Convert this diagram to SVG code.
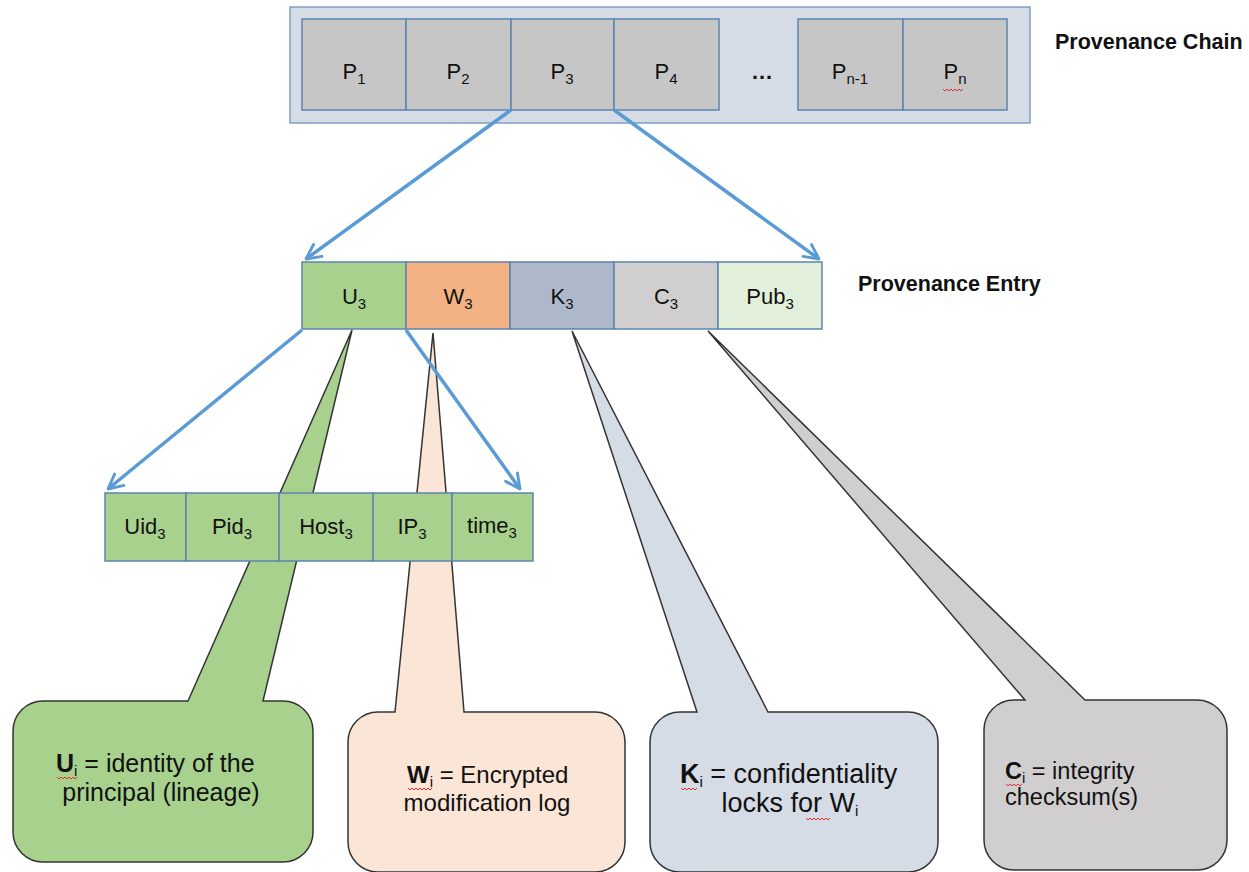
<svg xmlns="http://www.w3.org/2000/svg" width="1249" height="872" viewBox="0 0 1249 872">
<style>
text{font-family:"Liberation Sans",Arial,sans-serif;fill:#111;}
.lbl{font-size:22px;text-anchor:middle;}
.sub{font-size:15px;}
.title{font-size:21.5px;font-weight:bold;}
.cell{stroke:#5b84b1;stroke-width:1.5;}
.call{stroke:#333;stroke-width:1.5;stroke-linejoin:miter;}
.conn{stroke:#5b9bd5;stroke-width:3.5;fill:none;marker-end:url(#ah);}
.sq{stroke:#e03030;stroke-width:1;fill:none;}
</style>
<defs>
<marker id="ah" viewBox="0 0 12 12" refX="11" refY="6" markerWidth="5" markerHeight="5" orient="auto" markerUnits="strokeWidth">
<path d="M1,1 L11,6 L1,11" fill="none" stroke="#5b9bd5" stroke-width="2" stroke-linecap="round" stroke-linejoin="round"/>
</marker>
</defs>
<rect width="1249" height="872" fill="#fff"/>

<!-- callouts (behind) -->
<g id="callout-U">
<path class="call" fill="#a9d18e" d="M188,701 L352,330 L263,701 H283 A30,30 0 0 1 313,731 V832 A30,30 0 0 1 283,862 H43 A30,30 0 0 1 13,832 V731 A30,30 0 0 1 43,701 Z"/>
<text x="56" y="772" font-size="25"><tspan font-weight="bold">U</tspan><tspan class="sub" dy="4">i</tspan><tspan dy="-4"> = identity of the</tspan></text>
<text x="161" y="801" font-size="25" text-anchor="middle">principal (lineage)</text>
<path class="sq" d="M57,777 l2,2 l2,-2 l2,2 l2,-2 l2,2 l2,-2 l2,2 l2,-2 l2,2 l2,-2"/>
</g>
<g id="callout-W">
<path class="call" fill="#fbe5d6" d="M395,712 L433,333 L464,712 H595 A30,30 0 0 1 625,742 V842 A30,30 0 0 1 595,872 H378 A30,30 0 0 1 348,842 V742 A30,30 0 0 1 378,712 Z"/>
<text x="407" y="783" font-size="24"><tspan font-weight="bold">W</tspan><tspan class="sub" dy="4">i</tspan><tspan dy="-4"> = Encrypted</tspan></text>
<text x="487" y="811" font-size="24" text-anchor="middle">modification log</text>
<path class="sq" d="M408,788 l2,2 l2,-2 l2,2 l2,-2 l2,2 l2,-2 l2,2 l2,-2 l2,2 l2,-2 l2,2 l2,-2"/>
</g>
<g id="callout-K">
<path class="call" fill="#d6dce5" d="M697,712 L572,331 L768,712 H908 A30,30 0 0 1 938,742 V842 A30,30 0 0 1 908,872 H680 A30,30 0 0 1 650,842 V742 A30,30 0 0 1 680,712 Z"/>
<text x="680" y="783" font-size="27"><tspan font-weight="bold">K</tspan><tspan class="sub" dy="4">i</tspan><tspan dy="-4"> = confidentiality</tspan></text>
<text x="790" y="812" font-size="27" text-anchor="middle">locks for W<tspan class="sub" dy="4">i</tspan></text>
<path class="sq" d="M681,788 l2,2 l2,-2 l2,2 l2,-2 l2,2 l2,-2 l2,2 l2,-2"/>
<path class="sq" d="M806,818 l2,2 l2,-2 l2,2 l2,-2 l2,2 l2,-2 l2,2 l2,-2 l2,2 l2,-2 l2,2 l2,-2"/>
</g>
<g id="callout-C">
<path class="call" fill="#d0cece" d="M1025,700 L708,331 L1085,700 H1197 A30,30 0 0 1 1227,730 V840 A30,30 0 0 1 1197,870 H1014 A30,30 0 0 1 984,840 V730 A30,30 0 0 1 1014,700 Z"/>
<text x="1005" y="779" font-size="23.5"><tspan font-weight="bold">C</tspan><tspan class="sub" dy="4">i</tspan><tspan dy="-4"> = integrity</tspan></text>
<text x="1005" y="805" font-size="23.5">checksum(s)</text>
<path class="sq" d="M1006,784 l2,2 l2,-2 l2,2 l2,-2 l2,2 l2,-2 l2,2 l2,-2"/>
</g>

<!-- provenance chain -->
<g id="chain">
<rect x="290" y="7" width="740" height="116" fill="#d6dce5" stroke="#7f9fc4" stroke-width="1.5"/>
<g fill="#c6c6c6">
<rect class="cell" x="302" y="19" width="104" height="91"/>
<rect class="cell" x="406" y="19" width="105" height="91"/>
<rect class="cell" x="511" y="19" width="103" height="91"/>
<rect class="cell" x="614" y="19" width="105" height="91"/>
<rect class="cell" x="798" y="19" width="105" height="91"/>
<rect class="cell" x="903" y="19" width="104" height="91"/>
</g>
<text class="lbl" x="354" y="79">P<tspan class="sub" dy="5">1</tspan></text>
<text class="lbl" x="458" y="79">P<tspan class="sub" dy="5">2</tspan></text>
<text class="lbl" x="562" y="79">P<tspan class="sub" dy="5">3</tspan></text>
<text class="lbl" x="666" y="79">P<tspan class="sub" dy="5">4</tspan></text>
<text class="lbl" x="762" y="79" font-weight="bold">…</text>
<text class="lbl" x="850" y="79">P<tspan class="sub" dy="5">n-1</tspan></text>
<text class="lbl" x="955" y="79">P<tspan class="sub" dy="5">n</tspan></text>
<path class="sq" d="M943,89 l2,2 l2,-2 l2,2 l2,-2 l2,2 l2,-2 l2,2 l2,-2 l2,2 l2,-2"/>
<text class="title" x="1055" y="49">Provenance Chain</text>
</g>

<!-- provenance entry -->
<g id="entry">
<rect class="cell" x="302" y="262" width="104" height="67" fill="#a9d18e"/>
<rect class="cell" x="406" y="262" width="104" height="67" fill="#f4b183"/>
<rect class="cell" x="510" y="262" width="104" height="67" fill="#adb9ca"/>
<rect class="cell" x="614" y="262" width="104" height="67" fill="#d0cece"/>
<rect class="cell" x="718" y="262" width="104" height="67" fill="#e2efda"/>
<text class="lbl" x="354" y="304">U<tspan class="sub" dy="5">3</tspan></text>
<text class="lbl" x="458" y="304">W<tspan class="sub" dy="5">3</tspan></text>
<text class="lbl" x="562" y="304">K<tspan class="sub" dy="5">3</tspan></text>
<text class="lbl" x="666" y="304">C<tspan class="sub" dy="5">3</tspan></text>
<text class="lbl" x="770" y="304">Pub<tspan class="sub" dy="5">3</tspan></text>
<text class="title" x="858" y="291">Provenance Entry</text>
</g>

<!-- U3 detail -->
<g id="udetail" fill="#a9d18e">
<rect class="cell" x="105" y="493" width="81" height="68"/>
<rect class="cell" x="186" y="493" width="93" height="68"/>
<rect class="cell" x="279" y="493" width="94" height="68"/>
<rect class="cell" x="373" y="493" width="79" height="68"/>
<rect class="cell" x="452" y="493" width="81" height="68"/>
<text class="lbl" x="145" y="534">Uid<tspan class="sub" dy="5">3</tspan></text>
<text class="lbl" x="232" y="534">Pid<tspan class="sub" dy="5">3</tspan></text>
<text class="lbl" x="326" y="534">Host<tspan class="sub" dy="5">3</tspan></text>
<text class="lbl" x="412" y="534">IP<tspan class="sub" dy="5">3</tspan></text>
<text class="lbl" x="492" y="533" font-size="19">time<tspan class="sub" dy="5" font-size="14">3</tspan></text>
</g>

<!-- connectors -->
<g id="connectors">
<line class="conn" x1="511" y1="110" x2="306" y2="259"/>
<line class="conn" x1="614" y1="110" x2="819" y2="259"/>
<line class="conn" x1="302" y1="330" x2="108" y2="489"/>
<line class="conn" x1="406" y1="330" x2="520" y2="489"/>
</g>
</svg>
